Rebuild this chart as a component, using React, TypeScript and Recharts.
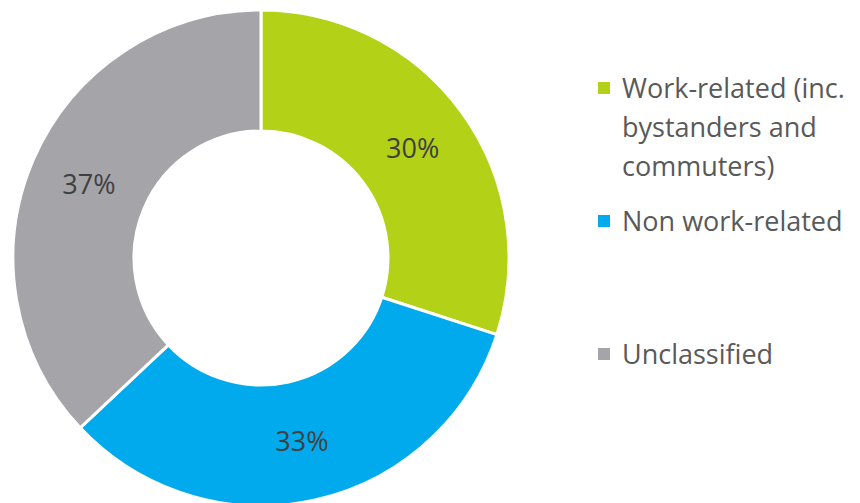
import React from 'react';
import { PieChart, Pie, Cell, Legend } from 'recharts';

const categories = ['Work-related (inc. bystanders and commuters)', 'Non work-related', 'Unclassified'];
const shares = [30, 33, 37];
const colors = ['#B3D116', '#00AAEC', '#A5A5A9'];

const chartData = categories.map((name, i) => ({ name, value: shares[i] }));

const RAD = Math.PI / 180;
const FONT = '"Open Sans", sans-serif';

const renderLabel = (props: any) => {
  const { cx, cy, midAngle, innerRadius, outerRadius, value } = props;
  const r = (innerRadius + outerRadius) / 2;
  const x = cx + r * Math.cos(-midAngle * RAD);
  const y = cy + r * Math.sin(-midAngle * RAD);
  return (
    <text x={x} y={y} fill="#404040" fontSize={27} fontFamily={FONT} textAnchor="middle" dominantBaseline="central">
      {`${value}%`}
    </text>
  );
};

// keep legend in data order (recharts sorts the payload otherwise)
const renderLegend = () => (
  <div style={{ fontFamily: FONT, fontSize: 27, lineHeight: '39px', color: '#595959' }}>
    {categories.map((name, i) => (
      <div key={`legend-${i}`} style={{ display: 'flex', alignItems: 'flex-start', height: 133 }}>
        <span style={{ width: 12, height: 12, background: colors[i], marginTop: 14, marginRight: 12, flexShrink: 0 }} />
        <span style={{ width: 230 }}>{name}</span>
      </div>
    ))}
  </div>
);

export default function App() {
  return (
    <div style={{ position: 'absolute', left: 0, top: 0, width: 860, height: 503, background: '#fff' }}>
      <PieChart width={860} height={503} margin={{ top: 0, right: 0, bottom: 0, left: 0 }}>
        <Pie
          data={chartData}
          dataKey="value"
          nameKey="name"
          cx={261}
          cy={258}
          innerRadius={127}
          outerRadius={248}
          startAngle={90}
          endAngle={-270}
          stroke="#ffffff"
          strokeWidth={3}
          label={renderLabel}
          labelLine={false}
          isAnimationActive={false}
        >
          {chartData.map((entry, index) => (
            <Cell key={`cell-${index}`} fill={colors[index]} />
          ))}
        </Pie>
        <Legend
          layout="vertical"
          align="right"
          verticalAlign="top"
          content={renderLegend}
          wrapperStyle={{ left: 598, top: 68, width: 262 }}
        />
      </PieChart>
    </div>
  );
}
